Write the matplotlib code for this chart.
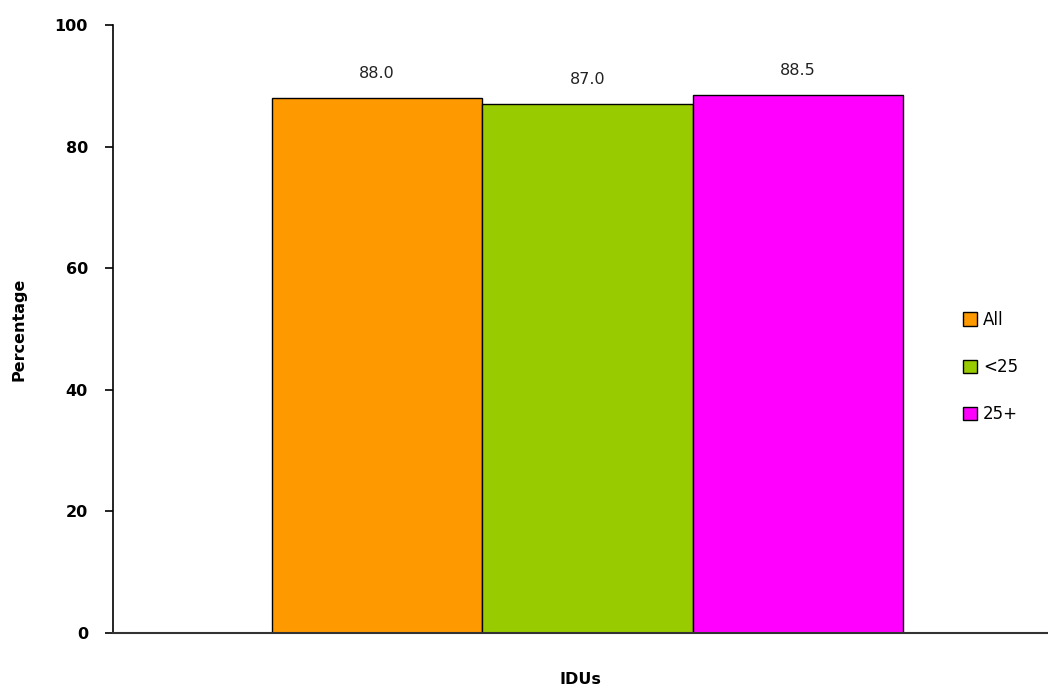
import numpy as np
import matplotlib.pyplot as plt

groups = ["All", "<25", "25+"]
values = [88.0, 87.0, 88.5]
colors = ["#FF9900", "#99CC00", "#FF00FF"]
category = "IDUs"

fig = plt.figure(figsize=(10.48, 6.87), dpi=100)
ax = fig.add_axes([113 / 1048, 1 - 633 / 687, 935 / 1048, 608 / 687])

offsets = np.arange(len(groups)) - 1
for off, val, col, name in zip(offsets, values, colors, groups):
    ax.bar(off, val, width=1.0, color=col, edgecolor="black", linewidth=1.0, label=name)
    ax.text(off, val + 4.0, f"{val:.1f}", ha="center", va="center", fontsize=11.5, color="#222222")

ax.set_xlim(-2.256, 2.19)
ax.set_ylim(0, 100)
ax.set_yticks(np.arange(0, 101, 20))
ax.set_yticklabels([str(v) for v in range(0, 101, 20)], fontweight="bold", fontsize=11.5)
ax.set_xticks([])
ax.tick_params(axis="y", direction="out", length=6, width=1.2, pad=12)

for s in ["top", "right"]:
    ax.spines[s].set_visible(False)
ax.spines["left"].set_linewidth(1.2)
ax.spines["bottom"].set_linewidth(1.5)
ax.spines["bottom"].set_color("#333333")

ax.set_ylabel("Percentage", fontweight="bold", fontsize=11.5, labelpad=20)
ax.set_xlabel(category, fontweight="bold", fontsize=11.5, labelpad=28)

ax.legend(loc="center left", bbox_to_anchor=(0.9, 0.4375), frameon=False,
          handlelength=0.85, handleheight=0.85, handletextpad=0.35,
          labelspacing=1.75, fontsize=12, borderpad=0)

fig.savefig("out.png", dpi=100)
